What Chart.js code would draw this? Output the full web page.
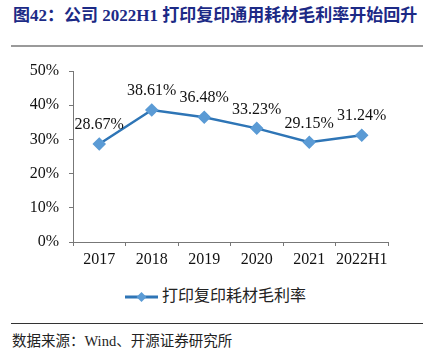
<!DOCTYPE html>
<html>
<head>
<meta charset="utf-8">
<script src="https://cdn.jsdelivr.net/npm/chart.js@4"></script>
<style>
  body { margin: 0; background: #fff; }
  #page { position: relative; width: 426px; height: 363px; overflow: hidden; }
  #title {
    position: absolute; left: 13px; top: 1px; white-space: nowrap;
    font: bold 17px "Liberation Serif", "Noto Sans CJK SC", serif; color: #1c2a86;
  }
  #topline { position: absolute; left: 11px; top: 45px; width: 412px; height: 2px; background: #9a9a9a; }
  #chartbox { position: absolute; left: 0; top: 0; width: 426px; height: 280px; }
  #legend {
    position: absolute; left: 125px; top: 282px; white-space: nowrap;
    font: 16px "Noto Sans CJK SC", sans-serif; color: #222;
  }
  #legend svg { vertical-align: middle; margin-right: 4px; }
  #bottomline { position: absolute; left: 11px; top: 323px; width: 412px; height: 1px; background: #333; }
  #source {
    position: absolute; left: 12px; top: 329px; white-space: nowrap;
    font: 14.5px "Liberation Serif", "Noto Sans CJK SC", serif; color: #222;
  }
</style>
</head>
<body>
<div id="page">
  <div id="title">图42：公司 2022H1 打印复印通用耗材毛利率开始回升</div>
  <div id="topline"></div>
  <div id="chartbox"><canvas id="chart"></canvas></div>
  <div id="legend"><svg width="33" height="10"><line x1="0" y1="5" x2="33" y2="5" stroke="#2E75B6" stroke-width="3"/><polygon points="16.5,0 21.5,5 16.5,10 11.5,5" fill="#5B9BD5"/></svg>打印复印耗材毛利率</div>
  <div id="bottomline"></div>
  <div id="source">数据来源：Wind、开源证券研究所</div>
</div>
<script>
const categories = ["2017", "2018", "2019", "2020", "2021", "2022H1"];
const margin = [28.67, 38.61, 36.48, 33.23, 29.15, 31.24];
const yTicks = [0, 10, 20, 30, 40, 50];

const serif = "'Liberation Serif', 'Times New Roman', serif";

// draws the value labels above each point
const valueLabels = {
  id: "valueLabels",
  afterDatasetsDraw(chart) {
    const ctx = chart.ctx;
    const meta = chart.getDatasetMeta(0);
    ctx.save();
    ctx.font = "16px " + serif;
    ctx.fillStyle = "#111";
    ctx.textAlign = "center";
    ctx.textBaseline = "middle";
    meta.data.forEach((pt, i) => {
      ctx.fillText(margin[i].toFixed(2) + "%", pt.x, pt.y - 19);
    });
    ctx.restore();
  }
};

new Chart(document.getElementById("chart"), {
  type: "line",
  data: {
    labels: categories,
    datasets: [{
      label: "打印复印耗材毛利率",
      data: margin,
      borderColor: "#2E75B6",
      borderWidth: 2.5,
      pointStyle: "rectRot",
      pointRadius: 5,
      pointBackgroundColor: "#5B9BD5",
      pointBorderColor: "#5B9BD5",
      tension: 0
    }]
  },
  options: {
    responsive: true,
    maintainAspectRatio: false,
    animation: false,
    layout: { padding: { left: 0, right: 38, top: 71, bottom: 0 } },
    plugins: {
      legend: { display: false },
      tooltip: { enabled: false }
    },
    scales: {
      x: {
        offset: true,
        afterFit: s => { s.height = 38; },
        grid: { drawOnChartArea: false, tickLength: 4, color: "#777", offset: true },
        border: { color: "#777", width: 1 },
        ticks: {
          color: "#111", padding: 4, maxRotation: 0, minRotation: 0, autoSkip: false,
          font: { family: serif, size: 16 }
        }
      },
      y: {
        min: 0,
        max: 50,
        afterFit: s => { s.width = 73; },
        afterBuildTicks: s => { s.ticks = yTicks.map(v => ({ value: v })); },
        grid: { drawOnChartArea: false, tickLength: 4, color: "#777" },
        border: { color: "#777", width: 1 },
        ticks: {
          color: "#111",
          padding: 10,
          font: { family: serif, size: 16 },
          callback: v => v + "%"
        }
      }
    }
  },
  plugins: [valueLabels]
});
</script>
</body>
</html>
